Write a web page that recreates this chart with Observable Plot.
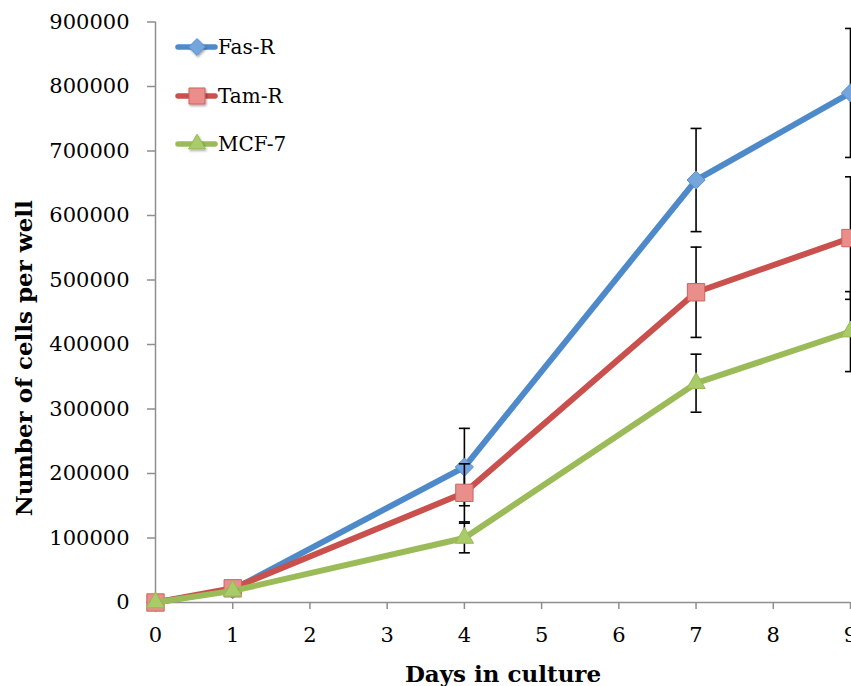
<!DOCTYPE html>
<html>
<head>
<meta charset="utf-8">
<script src="https://cdn.jsdelivr.net/npm/d3@7"></script>
<script src="https://cdn.jsdelivr.net/npm/@observablehq/plot@0.6"></script>
<style>
  html, body { margin: 0; padding: 0; background: white; overflow: hidden; }
  #wrap { position: relative; width: 851px; height: 686px; }
  #legend { position: absolute; left: 0; top: 0; pointer-events: none; }
</style>
</head>
<body>
<div id="wrap"></div>
<script>
// ---- data ----
const days = [0, 1, 4, 7, 9];
const seriesNames = ["Fas-R", "Tam-R", "MCF-7"];
const fasR    = [0, 20000, 210000, 655000, 790000];
const fasRErr = [2000, 3000, 60000, 80000, 100000];
const tamR    = [0, 22000, 170000, 481000, 565000];
const tamRErr = [2000, 3000, 45000, 70000, 95000];
const mcf7    = [0, 18000, 100000, 340000, 420000];
const mcf7Err = [2000, 2000, 23000, 45000, 62000];
const xTicks = [0, 1, 2, 3, 4, 5, 6, 7, 8, 9];
const yTicks = [0, 100000, 200000, 300000, 400000, 500000, 600000, 700000, 800000, 900000];
const xTitle = "Days in culture";
const yTitle = "Number of cells per well";

// ---- styles ----
const styles = {
  "Fas-R": {line: "#4e8ac9", fill: "#74a5dd", stroke: "#5b8fcc", symbol: "diamond2", r: 8.2},
  "Tam-R": {line: "#c9504c", fill: "#e98e8a", stroke: "#d0625e", symbol: "square", r: 9.8},
  "MCF-7": {line: "#9bbb59", fill: "#a9cb68", stroke: "#97b955", symbol: "triangle", r: 6.8}
};
const values = {"Fas-R": fasR, "Tam-R": tamR, "MCF-7": mcf7};
const errors = {"Fas-R": fasRErr, "Tam-R": tamRErr, "MCF-7": mcf7Err};

const rows = seriesNames.map(name => days.map((d, i) => ({
  series: name, day: d, value: values[name][i], err: errors[name][i]
})));

const cap = {
  draw(context, size) {
    const w = Math.sqrt(size / Math.PI);
    context.moveTo(-w, 0);
    context.lineTo(w, 0);
  }
};

const axisGray = "#8e8e8e";
const marks = [
  Plot.ruleY([0], {stroke: axisGray, strokeWidth: 1.5}),
  Plot.ruleX([0], {stroke: axisGray, strokeWidth: 1.5}),
  Plot.axisY({ticks: yTicks, tickSize: 8, tickPadding: 18, tickFormat: d => String(d),
              stroke: axisGray, strokeWidth: 1.5, fontSize: 21, label: null}),
  Plot.axisX({ticks: xTicks, tickSize: 7, tickPadding: 18, tickFormat: d => String(d),
              stroke: axisGray, strokeWidth: 1.5, fontSize: 21, label: null})
];
rows.forEach(data => {
  const s = styles[data[0].series];
  marks.push(
    Plot.line(data, {x: "day", y: "value", stroke: s.line, strokeWidth: 6,
                     strokeLinejoin: "round", strokeLinecap: "round"}),
    Plot.ruleX(data, {x: "day", y1: d => d.value - d.err, y2: d => d.value + d.err,
                      stroke: "black", strokeWidth: 1.6}),
    Plot.dot(data, {x: "day", y: d => d.value + d.err, symbol: cap, r: 5.5,
                    stroke: "black", strokeWidth: 1.6, fill: "none"}),
    Plot.dot(data, {x: "day", y: d => d.value - d.err, symbol: cap, r: 5.5,
                    stroke: "black", strokeWidth: 1.6, fill: "none"}),
    Plot.dot(data, {x: "day", y: "value", symbol: s.symbol, r: s.r,
                    fill: s.fill, stroke: s.stroke, strokeWidth: 1, ariaLabel: "marker"})
  );
});
marks.push(
  Plot.text([yTitle], {frameAnchor: "left", text: d => d, rotate: -90, dx: -131, dy: 46,
                       textAnchor: "middle", lineAnchor: "middle",
                       fontSize: 23, fontWeight: "bold", fill: "black"}),
  Plot.text([xTitle], {frameAnchor: "bottom", text: d => d, dy: 72,
                       textAnchor: "middle", lineAnchor: "middle",
                       fontSize: 23, fontWeight: "bold", fill: "black"})
);

const chart = Plot.plot({
  width: 851,
  height: 686,
  marginLeft: 155,
  marginRight: 1,
  marginTop: 21.5,
  marginBottom: 84,
  style: {fontFamily: "'DejaVu Serif', serif", color: "black", background: "white", overflow: "hidden"},
  x: {domain: [0, 9]},
  y: {domain: [0, 900000]},
  marks
});

// drop shadows on markers
const svg = d3.select(chart);
const defs = svg.insert("defs", ":first-child");
defs.append("filter").attr("id", "shadow").attr("x", "-50%").attr("y", "-50%")
  .attr("width", "200%").attr("height", "200%")
  .append("feDropShadow").attr("dx", 1.2).attr("dy", 2).attr("stdDeviation", 1.6)
  .attr("flood-color", "#000").attr("flood-opacity", 0.45);
svg.selectAll('g[aria-label="marker"]').attr("filter", "url(#shadow)");

document.getElementById("wrap").appendChild(chart);

// ---- legend ----
const leg = d3.select("#wrap").append("svg").attr("id", "legend")
  .attr("width", 851).attr("height", 686)
  .style("font-family", "'DejaVu Serif', serif");
const legDefs = leg.append("defs");
legDefs.append("filter").attr("id", "shadow2").attr("x", "-50%").attr("y", "-50%")
  .attr("width", "200%").attr("height", "200%")
  .append("feDropShadow").attr("dx", 1).attr("dy", 1.5).attr("stdDeviation", 1.2)
  .attr("flood-color", "#000").attr("flood-opacity", 0.35);
const legendY = [47, 96, 144];
const symMap = {diamond2: d3.symbolDiamond2, square: d3.symbolSquare, triangle: d3.symbolTriangle};
seriesNames.forEach((name, i) => {
  const s = styles[name];
  const g = leg.append("g").attr("transform", `translate(0,${legendY[i]})`);
  g.append("line").attr("x1", 178).attr("x2", 215).attr("y1", 0).attr("y2", 0)
    .attr("stroke", s.line).attr("stroke-width", 5.5).attr("stroke-linecap", "round");
  g.append("path").attr("d", d3.symbol(symMap[s.symbol], s.r * s.r * Math.PI * 0.85)())
    .attr("transform", "translate(197,0)")
    .attr("fill", s.fill).attr("stroke", s.stroke).attr("stroke-width", 1)
    .attr("filter", "url(#shadow2)");
  g.append("text").attr("x", 218).attr("y", 0).attr("dy", "0.36em")
    .attr("font-size", 20).attr("fill", "black").text(name);
});
</script>
</body>
</html>
